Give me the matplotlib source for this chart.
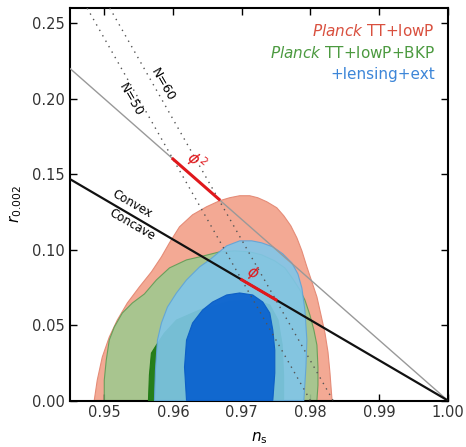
import numpy as np
import matplotlib
matplotlib.use("Agg")
import matplotlib.pyplot as plt

# Planck TT+lowP, 95% region
red_ns = [0.94854, 0.94898, 0.94971, 0.95073, 0.95190, 0.95336, 0.95511, 0.95686,
          0.95832, 0.95949, 0.96095, 0.96285, 0.96489, 0.96679,
          0.96825, 0.96971, 0.97117, 0.97234, 0.97365, 0.97511, 0.97613, 0.97715,
          0.97803, 0.97876, 0.97949, 0.98022, 0.98095, 0.98154, 0.98212, 0.98256,
          0.98285, 0.98315]
red_r = [0.0, 0.01348, 0.02875, 0.04203, 0.05332, 0.06461, 0.07523, 0.08519,
         0.09515, 0.10445, 0.11507, 0.12304, 0.12835, 0.13234,
         0.13433, 0.13566, 0.13566, 0.13433, 0.13167, 0.12769, 0.12237, 0.11574,
         0.10777, 0.09914, 0.08851, 0.07855, 0.06859, 0.05664, 0.04469, 0.03207,
         0.01813, 0.0]

# Planck TT+lowP+BKP, 95% and 68%
green_ns = [0.95000, 0.95000, 0.95029, 0.95073, 0.95146, 0.95263, 0.95409, 0.95584,
            0.95759, 0.95949, 0.96197, 0.96387, 0.96679, 0.96898,
            0.97117, 0.97292, 0.97482, 0.97628, 0.97745, 0.97847, 0.97920, 0.97993,
            0.98051, 0.98095, 0.98110, 0.98110, 0.98095]
green_r = [0.0, 0.01348, 0.02676, 0.04004, 0.04867, 0.05797, 0.06461, 0.07058,
           0.07988, 0.08785, 0.09316, 0.09515, 0.09847, 0.09914,
           0.09847, 0.09648, 0.09249, 0.08785, 0.08054, 0.07324, 0.06660, 0.05664,
           0.04668, 0.03672, 0.02211, 0.01016, 0.0]
green_in_ns = [0.95643, 0.95657, 0.95686, 0.95759, 0.95876, 0.96051, 0.96387, 0.9683,
               0.9719, 0.9741, 0.9753, 0.9759, 0.9761, 0.9761]
green_in_r = [0.0, 0.01680, 0.03141, 0.03672, 0.04469, 0.05332, 0.05996, 0.0659,
              0.0666, 0.0633, 0.0533, 0.0368, 0.0168, 0.0]

# +lensing+ext, 95% and 68%
blue_ns = [0.95730, 0.95745, 0.95774, 0.95832, 0.95920, 0.96051, 0.96197, 0.96387,
           0.96533, 0.96781, 0.96971, 0.97146, 0.97292, 0.97453, 0.97599, 0.97730,
           0.97818, 0.97876, 0.97920, 0.97949, 0.97935, 0.97905]
blue_r = [0.0, 0.02012, 0.04004, 0.05133, 0.06195, 0.07125, 0.07988, 0.08851,
          0.09316, 0.10246, 0.10578, 0.10578, 0.10445, 0.10180, 0.09715, 0.09117,
          0.08387, 0.07457, 0.05996, 0.04004, 0.02211, 0.0]
blue_in_ns = [0.96197, 0.96168, 0.96197, 0.96285, 0.96431, 0.96577, 0.96781,
              0.96971, 0.97161, 0.97307, 0.97409, 0.97453, 0.97482, 0.97482, 0.97453]
blue_in_r = [0.0, 0.02212, 0.04004, 0.05133, 0.05996, 0.06527, 0.06992,
             0.07125, 0.06992, 0.06527, 0.05797, 0.04668, 0.03340, 0.01813, 0.0]

# model lines
line_ns = [0.945, 1.0]
phi2_line_r = [0.22, 0.0]
convex_r = [0.1467, 0.0]
phi2_ns = [0.96, 0.9667]
phi2_r = [0.16, 0.1333]
phi_ns = [0.97, 0.975]
phi_r = [0.08, 0.0667]
n50_ns = [0.9475, 0.98]
n50_r = [0.26, 0.0]
n60_ns = [0.9508, 0.9833]
n60_r = [0.26, 0.0]

xticks = [0.95, 0.96, 0.97, 0.98, 0.99, 1.00]
yticks = [0.00, 0.05, 0.10, 0.15, 0.20, 0.25]

fig = plt.figure(figsize=(4.66, 4.47), dpi=100)
ax = fig.add_axes([0.150, 0.104, 0.811, 0.878])

ax.fill(red_ns, red_r, color="#f3a994", ec="#e58c78", lw=0.8, zorder=1)
ax.fill(green_ns, green_r, color="#a0c98f", ec="#5f9c55", lw=0.8, alpha=0.9, zorder=2)
ax.fill(green_in_ns, green_in_r, color="#1f7a14", ec="#1f7a14", lw=0.8, alpha=0.95, zorder=3)
ax.fill(blue_ns, blue_r, color="#80c6ea", ec="#5fa3d8", lw=0.8, alpha=0.9, zorder=4)
ax.fill(blue_in_ns, blue_in_r, color="#0a62cf", ec="#0a5cc4", lw=0.8, alpha=0.93, zorder=5)

ax.plot(line_ns, phi2_line_r, color="#999999", lw=1.0, zorder=6)
ax.plot(line_ns, convex_r, color="#111111", lw=1.6, zorder=6)
ax.plot(n50_ns, n50_r, color="#555555", lw=1.0, ls=(0, (1, 3.5)), zorder=7)
ax.plot(n60_ns, n60_r, color="#555555", lw=1.0, ls=(0, (1, 3.5)), zorder=7)
ax.plot(phi2_ns, phi2_r, color="#e0181c", lw=2.2, zorder=8)
ax.plot(phi_ns, phi_r, color="#e0181c", lw=2.2, zorder=8)

ax.text(0.9539, 0.1994, "N=50", fontsize=9, rotation=-60, ha="center", va="center", zorder=9)
ax.text(0.9585, 0.2094, "N=60", fontsize=9, rotation=-60, ha="center", va="center", zorder=9)
ax.text(0.9540, 0.1300, "Convex", fontsize=8.5, rotation=-30, ha="center", va="center", zorder=9)
ax.text(0.9540, 0.1164, "Concave", fontsize=8.5, rotation=-30, ha="center", va="center", zorder=9)
ax.text(0.9634, 0.1590, r"$\phi^2$", fontsize=11, color="#e0181c", rotation=-40,
        ha="center", va="center", zorder=9)
ax.text(0.9716, 0.0850, r"$\phi$", fontsize=11, color="#e0181c", rotation=-30,
        ha="center", va="center", zorder=9)

ax.text(0.9981, 0.2450, r"$\it{Planck}$ TT+lowP", fontsize=11, color="#d9503f", ha="right", va="center")
ax.text(0.9981, 0.2305, r"$\it{Planck}$ TT+lowP+BKP", fontsize=11, color="#4c9a40", ha="right", va="center")
ax.text(0.9981, 0.2160, "+lensing+ext", fontsize=11, color="#3d86d8", ha="right", va="center")

ax.set_xlim(0.945, 1.0)
ax.set_ylim(0.0, 0.26)
ax.set_xticks(xticks)
ax.set_yticks(yticks)
ax.set_xticklabels(["%.2f" % t for t in xticks])
ax.set_yticklabels(["%.2f" % t for t in yticks])
ax.tick_params(direction="in", top=True, right=True, length=5, width=1, labelsize=10.5,
               labelcolor="#333333")
for s in ax.spines.values():
    s.set_linewidth(1.5)
ax.set_xlabel(r"$n_{\rm s}$", fontsize=11, labelpad=7)
ax.set_ylabel(r"$r_{0.002}$", fontsize=11, labelpad=6)

fig.savefig("out.png", dpi=100)
